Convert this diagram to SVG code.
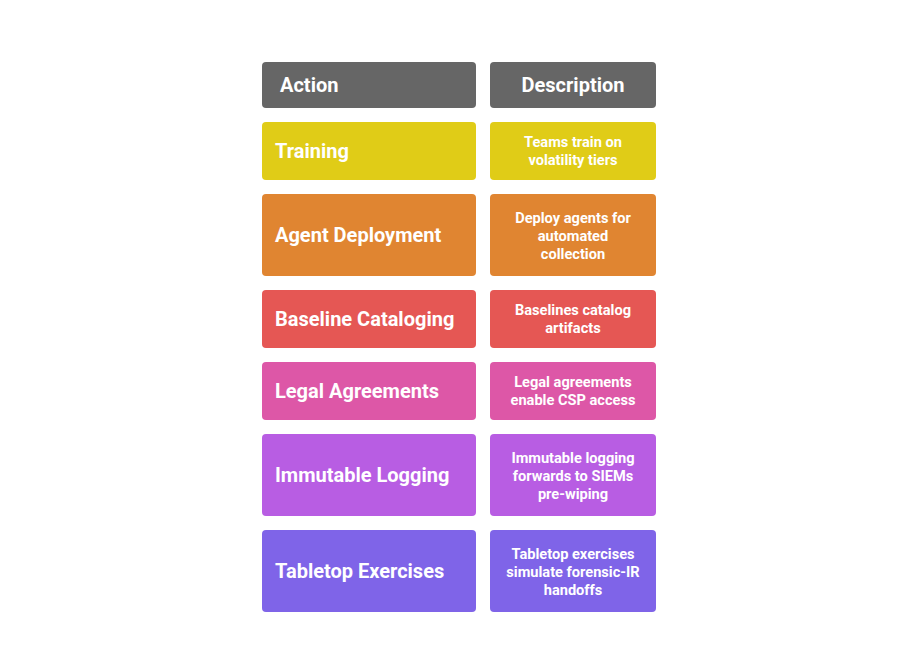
<svg xmlns="http://www.w3.org/2000/svg" width="918" height="655" viewBox="0 0 918 655">
<style>
.bg{fill:#ffffff}
.h{fill:#666666}
.c1{fill:#e0cc17}.c2{fill:#e08531}.c3{fill:#e55754}.c4{fill:#dd57a7}.c5{fill:#b85de3}.c6{fill:#7f64e8}
.ht{font-family:Roboto,"Liberation Sans",sans-serif;font-weight:700;font-size:20px;fill:#ffffff}
.lt{font-family:Roboto,"Liberation Sans",sans-serif;font-weight:700;font-size:20px;fill:#ffffff}
.dt{font-family:Roboto,"Liberation Sans",sans-serif;font-weight:700;font-size:14.6px;fill:#ffffff;text-anchor:middle}
</style>
<rect class="bg" x="0" y="0" width="918" height="655"/>
<g id="header-action"><rect class="h" x="262" y="62" width="214" height="46" rx="4"/><text class="ht" x="280" y="92">Action</text></g>
<g id="header-description"><rect class="h" x="490" y="62" width="166" height="46" rx="4"/><text class="ht" x="573" y="92" text-anchor="middle">Description</text></g>

<g id="training"><rect class="c1" x="262" y="122" width="214" height="58" rx="4"/><text class="lt" x="275" y="158">Training</text></g>
<g id="training-desc"><rect class="c1" x="490" y="122" width="166" height="58" rx="4"/><text class="dt" x="573" y="146.5">Teams train on</text><text class="dt" x="573" y="164.5">volatility tiers</text></g>

<g id="agent"><rect class="c2" x="262" y="194" width="214" height="82" rx="4"/><text class="lt" x="275" y="242">Agent Deployment</text></g>
<g id="agent-desc"><rect class="c2" x="490" y="194" width="166" height="82" rx="4"/><text class="dt" x="573" y="222.5">Deploy agents for</text><text class="dt" x="573" y="240.5">automated</text><text class="dt" x="573" y="258.5">collection</text></g>

<g id="baseline"><rect class="c3" x="262" y="290" width="214" height="58" rx="4"/><text class="lt" x="275" y="326">Baseline Cataloging</text></g>
<g id="baseline-desc"><rect class="c3" x="490" y="290" width="166" height="58" rx="4"/><text class="dt" x="573" y="314.5">Baselines catalog</text><text class="dt" x="573" y="332.5">artifacts</text></g>

<g id="legal"><rect class="c4" x="262" y="362" width="214" height="58" rx="4"/><text class="lt" x="275" y="398">Legal Agreements</text></g>
<g id="legal-desc"><rect class="c4" x="490" y="362" width="166" height="58" rx="4"/><text class="dt" x="573" y="386.5">Legal agreements</text><text class="dt" x="573" y="404.5">enable CSP access</text></g>

<g id="immutable"><rect class="c5" x="262" y="434" width="214" height="82" rx="4"/><text class="lt" x="275" y="482">Immutable Logging</text></g>
<g id="immutable-desc"><rect class="c5" x="490" y="434" width="166" height="82" rx="4"/><text class="dt" x="573" y="462.5">Immutable logging</text><text class="dt" x="573" y="480.5">forwards to SIEMs</text><text class="dt" x="573" y="498.5">pre-wiping</text></g>

<g id="tabletop"><rect class="c6" x="262" y="530" width="214" height="82" rx="4"/><text class="lt" x="275" y="578">Tabletop Exercises</text></g>
<g id="tabletop-desc"><rect class="c6" x="490" y="530" width="166" height="82" rx="4"/><text class="dt" x="573" y="558.5">Tabletop exercises</text><text class="dt" x="573" y="576.5">simulate forensic-IR</text><text class="dt" x="573" y="594.5">handoffs</text></g>
<g id="connectors"></g>
</svg>
